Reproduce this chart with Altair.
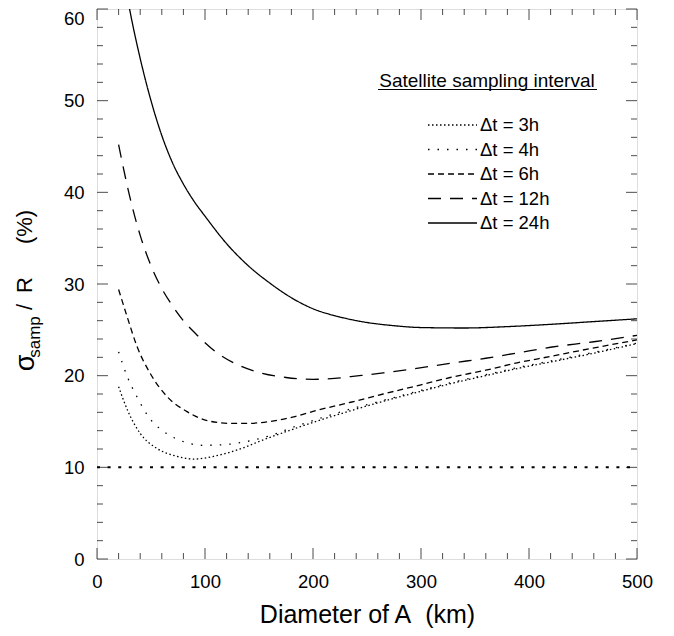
import altair as alt
import pandas as pd

# ---------------- data ----------------
series_names = ["Δt = 3h", "Δt = 4h", "Δt = 6h", "Δt = 12h", "Δt = 24h"]

x_3h = [20, 28, 40, 55, 74, 90, 108, 130, 154, 185, 200, 230, 265, 300, 330, 360, 390, 420, 450, 500]
y_3h = [18.8, 16.3, 13.7, 12.1, 11.2, 10.9, 11.2, 11.9, 13.0, 14.3, 14.9, 16.0, 17.2, 18.3, 19.2, 20.0, 20.8, 21.5, 22.2, 23.5]

x_4h = [20, 28, 37, 49, 62, 80, 99, 120, 142, 164, 182, 200, 230, 265, 300, 330, 360, 390, 420, 450, 500]
y_4h = [22.6, 19.9, 17.7, 15.3, 13.9, 12.8, 12.4, 12.5, 12.9, 13.6, 14.4, 15.1, 16.2, 17.3, 18.4, 19.3, 20.1, 20.9, 21.6, 22.3, 23.55]

x_6h = [20, 28, 37, 49, 65, 83, 102, 123, 140, 160, 182, 203, 235, 265, 300, 327, 360, 389, 420, 450, 500]
y_6h = [29.4, 26.4, 23.2, 20.3, 17.7, 16.1, 15.1, 14.8, 14.8, 15.0, 15.5, 16.2, 17.1, 18.0, 19.0, 19.8, 20.6, 21.4, 22.1, 22.8, 23.9]

x_12h = [20, 30, 40, 50, 60, 70, 80, 92, 110, 130, 150, 175, 200, 220, 235, 265, 296, 330, 360, 390, 420, 460, 500]
y_12h = [45.2, 39.7, 35.3, 32.0, 29.5, 27.6, 26.0, 24.5, 22.6, 21.2, 20.35, 19.8, 19.6, 19.7, 19.9, 20.3, 20.8, 21.4, 21.9, 22.5, 23.1, 23.7, 24.4]

x_24h = [20, 30, 40, 50, 60, 70, 80, 90, 100, 120, 140, 160, 180, 200, 225, 250, 275, 300, 340, 380, 420, 460, 500]
y_24h = [67.0, 60.1, 54.6, 50.0, 46.2, 43.2, 40.9, 39.0, 37.4, 34.4, 32.0, 30.1, 28.5, 27.3, 26.4, 25.8, 25.45, 25.25, 25.2, 25.35, 25.6, 25.9, 26.2]

reference_level = 10
x_ticks_major = [0, 100, 200, 300, 400, 500]
x_ticks_minor = [v for v in range(0, 501, 20) if v % 100 != 0]
y_ticks_major = [0, 10, 20, 30, 40, 50, 60]
y_ticks_minor = [v for v in range(0, 61, 2) if v % 10 != 0]

dash_patterns = [[1.5, 2.5], [1.5, 8], [6, 4], [13, 9], [1, 0]]

# ---------------- layout constants ----------------
W, H = 540, 550
FONT = "Liberation Sans"

xs = [x_3h, x_4h, x_6h, x_12h, x_24h]
ys = [y_3h, y_4h, y_6h, y_12h, y_24h]
rows = []
for name, xv, yv in zip(series_names, xs, ys):
    for a, b in zip(xv, yv):
        rows.append({"series": name, "x": a, "y": b})
df = pd.DataFrame(rows)

dash_scale = alt.Scale(domain=series_names, range=dash_patterns)
xscale = alt.Scale(domain=[0, 500], nice=False, zero=False, padding=0)
yscale = alt.Scale(domain=[0, 60], nice=False, zero=False, padding=0)

lines = alt.Chart(df).mark_line(color="black", strokeWidth=1.3, clip=True, interpolate="monotone").encode(
    x=alt.X("x:Q", scale=xscale, axis=alt.Axis(
        values=x_ticks_major, ticks=False, domain=False, grid=False, labelFlush=False,
        labelFontSize=18.5, labelFont=FONT, labelColor="black", labelPadding=13,
        title="Diameter of A\u00a0 (km)", titleFont=FONT, titleFontSize=25,
        titleFontWeight="normal", titleColor="black", titlePadding=12)),
    y=alt.Y("y:Q", scale=yscale, axis=alt.Axis(
        values=y_ticks_major, ticks=False, domain=False, grid=False, labelFlush=False,
        labelFontSize=18.5, labelFont=FONT, labelColor="black", labelPadding=13,
        labelOffset={"condition": {"test": "datum.value == 60", "value": 9}, "value": 0},
        title=None)),
    strokeDash=alt.StrokeDash("series:N", scale=dash_scale, legend=None),
    detail="series:N",
)

ref_df = pd.DataFrame({"x": [0], "x2": [500], "y": [reference_level]})
ref_line = alt.Chart(ref_df).mark_rule(color="black", strokeWidth=2, strokeDash=[3, 7.6]).encode(
    x=alt.X("x:Q", scale=xscale), x2="x2:Q", y=alt.Y("y:Q", scale=yscale))

# ---- inward ticks on all four sides ----
def xticks(vals, length, top):
    d = pd.DataFrame({"x": vals})
    yv = length / 2 if top else H - length / 2
    return alt.Chart(d).mark_tick(color="black", thickness=1, size=length).encode(
        x=alt.X("x:Q", scale=xscale), y=alt.value(yv))

def yticks(vals, length, right):
    d = pd.DataFrame({"y": vals})
    xv = W - length / 2 if right else length / 2
    return alt.Chart(d).mark_tick(color="black", thickness=1, size=length).encode(
        y=alt.Y("y:Q", scale=yscale), x=alt.value(xv))

tick_layers = [
    xticks(x_ticks_major, 11, False), xticks(x_ticks_minor, 6, False),
    xticks(x_ticks_major, 11, True), xticks(x_ticks_minor, 6, True),
    yticks(y_ticks_major, 11, False), yticks(y_ticks_minor, 6, False),
    yticks(y_ticks_major, 11, True), yticks(y_ticks_minor, 6, True),
]

# ---- legend (drawn by hand) ----
def px_to_x(px):
    return (px - 97) / (W / 500)

def py_to_y(py):
    return (559 - py) / (H / 60)

leg_rows = [125 + 24.5 * i for i in range(5)]
leg_df = pd.DataFrame({
    "series": series_names,
    "x": [px_to_x(428)] * 5,
    "x2": [px_to_x(477)] * 5,
    "tx": [px_to_x(480)] * 5,
    "y": [py_to_y(p) for p in leg_rows],
})
leg_lines = alt.Chart(leg_df).mark_rule(color="black", strokeWidth=1.3).encode(
    x="x:Q", x2="x2:Q", y="y:Q",
    strokeDash=alt.StrokeDash("series:N", scale=dash_scale, legend=None))
leg_text = alt.Chart(leg_df).mark_text(align="left", baseline="middle", fontSize=18.5, font=FONT,
                                       color="black").encode(
    x=alt.X("tx:Q"), y="y:Q", text="series:N")

title_df = pd.DataFrame({"x": [px_to_x(487)], "y": [py_to_y(87)], "t": ["Satellite sampling interval"]})
leg_title = alt.Chart(title_df).mark_text(align="center", baseline="alphabetic", fontSize=19, font=FONT,
                                          color="black").encode(x="x:Q", y="y:Q", text="t:N")
ul_df = pd.DataFrame({"x": [px_to_x(378)], "x2": [px_to_x(597)], "y": [py_to_y(89.5)]})
leg_ul = alt.Chart(ul_df).mark_rule(color="black", strokeWidth=1).encode(x="x:Q", x2="x2:Q", y="y:Q")

# ---- y axis title with subscript ----
dummy = pd.DataFrame({"k": [0]})
def ytitle_piece(text, page_x, page_y, size):
    return alt.Chart(dummy).mark_text(angle=270, align="center", baseline="alphabetic",
                                      fontSize=size, font=FONT, color="black").encode(
        x=alt.value(page_x - 97), y=alt.value(page_y - 9), text=alt.value(text))

ytitle = [
    ytitle_piece("σ", 34, 363, 27),
    ytitle_piece("samp", 39.5, 337, 17),
    ytitle_piece("/", 32, 307, 22),
    ytitle_piece("R", 32, 285, 22),
    ytitle_piece("(%)", 32, 227, 22),
]

chart = alt.layer(lines, ref_line, *tick_layers, leg_lines, leg_text, leg_title, leg_ul, *ytitle).properties(
    width=W, height=H,
    autosize=alt.AutoSizeParams(type="none"),
    padding={"left": 89, "top": 1, "right": 29, "bottom": 69},
).configure_view(stroke="black", strokeWidth=1.5).configure(background="white")

chart.save("out.html", embed_options={"renderer": "svg", "actions": False})
